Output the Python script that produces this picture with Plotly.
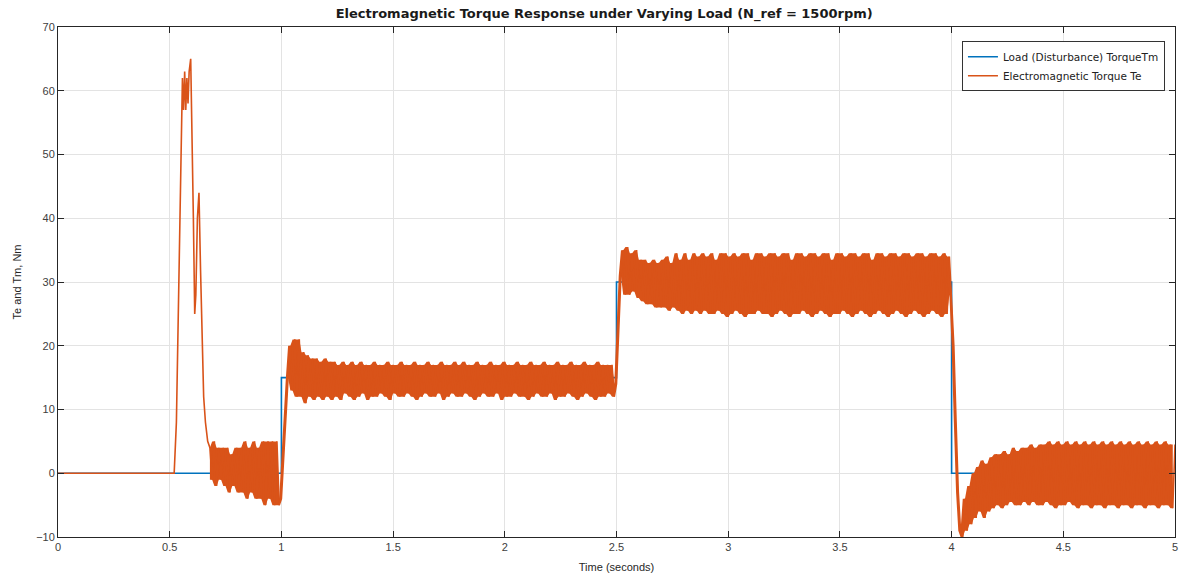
import numpy as np
import plotly.graph_objects as go

# ---- Load (disturbance) torque Tm ----
tm_time = [0.0, 1.0, 1.0, 2.5, 2.5, 4.0, 4.0, 5.0]
tm_value = [0, 0, 15, 15, 30, 30, 0, 0]

# ---- Electromagnetic torque Te : start-up (explicit times) ----
te_start_time = [0.0, 0.52, 0.53, 0.54, 0.55, 0.557, 0.562, 0.567, 0.572, 0.577,
                 0.582, 0.587, 0.594, 0.600, 0.606, 0.612, 0.617, 0.624, 0.631,
                 0.638, 0.645, 0.652, 0.66, 0.67]
te_start_value = [0, 0, 8, 30, 52, 62, 57, 63, 57, 62,
                  58, 63, 65, 55, 40, 25, 28, 40, 44,
                  32, 20, 12, 8, 5]

# ---- Te sampled every 0.01 s from 0.68 s to 5.00 s ----
te_sample_start = 0.68
te_sample_step = 0.01

te_no_load = [4, -1, 5, -2, 4, -1, 4, -2, 4, -3,
              3, -2, 4, -3, 4, -3, 5, -4, 4, -3,
              5, -4, 4, -4, 5, -5, 5, -4, 5, -5,
              5, -5, -4, 3, 9, 15]

te_load_15 = [20, 13, 21, 12, 21, 12, 19, 11, 18.5, 12,
              18, 11.5, 18, 12, 17.5, 11.5, 18, 12, 17.5, 11.5,
              17.5, 12, 17, 11.5, 17.5, 12.5, 17, 12, 17.5, 11.5,
              17, 12, 17.5, 12.5, 17, 11.5, 17, 12, 17.5, 12,
              17, 12.5, 17, 12, 17.5, 11.5, 17, 12.5, 17, 12,
              17.5, 12, 17, 12.5, 17, 12, 17.5, 11.5, 17, 12,
              17, 12.5, 17.5, 12, 17, 12, 17, 12.5, 17.5, 11.5,
              17, 12, 17, 12.5, 17.5, 12, 17, 12, 17.5, 12.5,
              17, 12, 17, 11.5, 17.5, 12, 17, 12.5, 17, 12,
              17.5, 12, 17, 12.5, 17, 11.5, 17.5, 12, 17, 12,
              17, 12.5, 17.5, 12, 17, 12, 17, 11.5, 17.5, 12,
              17, 12.5, 17, 12, 17.5, 12, 17, 12.5, 17, 11.5,
              17.5, 12, 17, 12, 17, 12.5, 17.5, 12, 17, 11.5,
              17, 12, 17.5, 12.5, 17, 12, 17, 11.5, 17.5, 12,
              17, 12, 17, 12.5, 17, 12, 14]

te_load_30 = [22, 31, 35, 28, 35.5, 28, 34.5, 28.5, 35, 27.5,
              33.5, 27, 33.5, 26.5, 33, 26.5, 33.5, 26, 33, 26,
              33.5, 26, 34, 25.5, 33, 26, 34.5, 25.5, 33.5, 25,
              34.5, 25.5, 33.5, 25, 34.5, 25.5, 34, 25, 34.5, 25.5,
              34, 25, 34.5, 25, 33.5, 25.5, 34.5, 25, 34.5, 24.5,
              34, 25, 34.5, 25.5, 34, 25, 34.5, 24.5, 34.5, 25,
              33.5, 25, 34.5, 25.5, 34.5, 25, 34, 25, 34.5, 24.5,
              34.5, 25, 34, 25.5, 34.5, 25, 34.5, 24.5, 33.5, 25,
              34.5, 25, 34.5, 25.5, 34, 25, 34.5, 24.5, 34.5, 25,
              34, 25.5, 34.5, 25, 34.5, 24.5, 33.5, 25, 34.5, 25,
              34.5, 25.5, 34, 25, 34.5, 24.5, 34.5, 25, 34, 25.5,
              34.5, 25, 34.5, 24.5, 33.5, 25, 34.5, 25.5, 34.5, 25,
              34, 24.5, 34.5, 25, 34.5, 25.5, 34, 25, 34.5, 24.5,
              34.5, 25, 34, 25.5, 34.5, 25, 34.5, 24.5, 34, 25,
              34.5, 25.5, 34.5, 25, 34, 24.5, 34.5, 25, 34, 28]

te_load_off = [20, 8, -3, -9, -10, -4, -9, -2, -8, 0,
               -7, 1, -6, 2, -7, 1.5, -6, 2.5, -5.5, 3,
               -5, 3, -5.5, 3.5, -5, 3, -4.5, 4, -5, 3.5,
               -5, 4, -4.5, 4, -5, 4.5, -4.5, 4, -5, 4.5,
               -5, 4.5, -4.5, 5, -5, 4.5, -5.5, 5, -5, 4.5,
               -5, 5, -4.5, 4.5, -5, 5, -5.5, 4.5, -5, 5,
               -5, 4.5, -5.5, 5, -5, 4.5, -5, 5, -5.5, 4.5,
               -5, 5, -5, 4.5, -5.5, 5, -5, 4.5, -5, 5,
               -5.5, 4.5, -5, 5, -5, 4.5, -5.5, 5, -5, 4.5,
               -5, 5, -5.5, 4.5, -5, 5, -5, 4.5, -5.5, 4.5]

x_ticks = [0, 0.5, 1, 1.5, 2, 2.5, 3, 3.5, 4, 4.5, 5]
x_tick_text = ["0", "0.5", "1", "1.5", "2", "2.5", "3", "3.5", "4", "4.5", "5"]
y_ticks = [-10, 0, 10, 20, 30, 40, 50, 60, 70]

sampled = te_no_load + te_load_15 + te_load_30 + te_load_off
sampled_time = [round(te_sample_start + i * te_sample_step, 4) for i in range(len(sampled))]
te_time = te_start_time + sampled_time
te_value = te_start_value + sampled

# dense oscillation band: between neighbouring samples of the Te record
band_time = sampled_time[:-1]
band_hi = [max(a, b) for a, b in zip(sampled[:-1], sampled[1:])]
band_lo = [min(a, b) for a, b in zip(sampled[:-1], sampled[1:])]

BLUE = "#0072BD"
ORANGE = "#D95319"
AXC = "#262626"
FONT = "Liberation Sans, Arial, sans-serif"
WIDE = "DejaVu Sans, sans-serif"

fig = go.Figure()
fig.add_trace(go.Scatter(x=tm_time, y=tm_value, mode="lines",
                         line=dict(color=BLUE, width=1.6),
                         name="Load (Disturbance) TorqueTm"))
fig.add_trace(go.Scatter(x=band_time, y=band_lo, mode="lines",
                         line=dict(color=ORANGE, width=0),
                         showlegend=False, hoverinfo="skip"))
fig.add_trace(go.Scatter(x=band_time, y=band_hi, mode="lines",
                         line=dict(color=ORANGE, width=0), fill="tonexty",
                         fillcolor=ORANGE,
                         showlegend=False, hoverinfo="skip"))
fig.add_trace(go.Scatter(x=te_time, y=te_value, mode="lines",
                         line=dict(color=ORANGE, width=1.6),
                         name="Electromagnetic Torque Te"))

fig.update_layout(
    width=1182, height=578,
    margin=dict(l=58, r=4, t=27, b=41),
    paper_bgcolor="white", plot_bgcolor="white",
    font=dict(family=FONT, size=11, color=AXC),
    title=dict(text="<b>Electromagnetic Torque Response under Varying Load (N_ref = 1500rpm)</b>",
               font=dict(family=WIDE, size=13, color="#1a1a1a"),
               x=0.489, xanchor="center", xref="paper",
               y=1 - 13 / 578, yanchor="middle", yref="container"),
    legend=dict(x=0.991, xanchor="right", y=0.972, yanchor="top",
                bgcolor="white", bordercolor="#333333", borderwidth=1,
                font=dict(family=WIDE, size=10.5, color="#222222"),
                traceorder="normal", tracegroupgap=0, itemwidth=30),
    showlegend=True,
)
fig.update_xaxes(range=[0, 5], tickvals=x_ticks, ticktext=x_tick_text,
                 showgrid=True, gridcolor="#e3e3e3", gridwidth=1,
                 showline=True, linecolor=AXC, linewidth=1, mirror="ticks",
                 ticks="inside", ticklen=6, tickcolor=AXC, zeroline=False,
                 tickfont=dict(size=11, color="#404040"),
                 title=dict(text="Time (seconds)", font=dict(size=11, color="#262626"), standoff=11))
fig.update_yaxes(range=[-10, 70], tickvals=y_ticks,
                 showgrid=True, gridcolor="#e3e3e3", gridwidth=1,
                 showline=True, linecolor=AXC, linewidth=1, mirror="ticks",
                 ticks="inside", ticklen=6, tickcolor=AXC, zeroline=False,
                 tickfont=dict(size=11, color="#404040"),
                 title=dict(text="Te and Tm, Nm", font=dict(size=11, color="#262626"), standoff=12))

fig.write_html("out.html")
